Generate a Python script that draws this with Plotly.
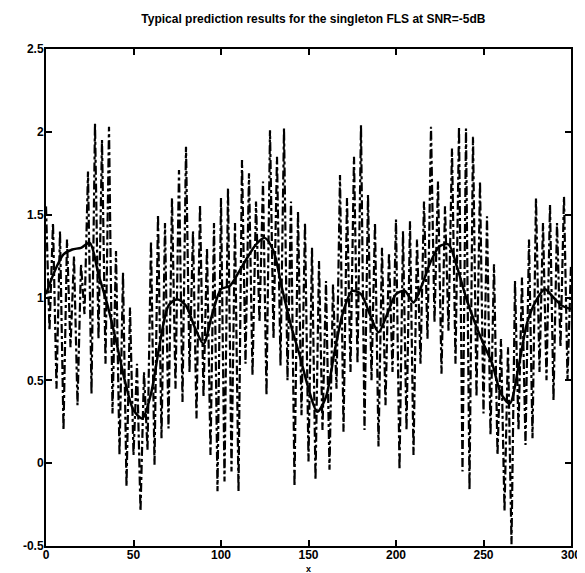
import plotly.graph_objects as go

# Solid line: prediction (read every 5 units)
pred_x = list(range(0, 301, 5))
pred_y = [1.02, 1.16, 1.26, 1.29, 1.30, 1.33, 1.14, 0.96, 0.74, 0.50,
          0.32, 0.27, 0.42, 0.72, 0.95, 0.99, 0.95, 0.82, 0.72, 0.90,
          1.05, 1.07, 1.15, 1.24, 1.32, 1.36, 1.28, 1.05, 0.83, 0.65,
          0.45, 0.31, 0.40, 0.68, 0.92, 1.04, 1.02, 0.90, 0.79, 0.90,
          1.02, 1.04, 0.97, 1.08, 1.22, 1.31, 1.32, 1.18, 1.00, 0.85,
          0.72, 0.60, 0.42, 0.36, 0.58, 0.85, 0.98, 1.05, 1.00, 0.95, 0.93]

# Dash-dot line: noisy data (read every 2 units)
noisy_x = list(range(0, 301, 2))
noisy_y = [1.55, 0.80, 1.45, 0.45, 1.40, 0.20, 1.35, 0.70, 1.25, 0.35,
           1.20, 0.90, 1.76, 0.42, 2.05, 0.75, 1.95, 0.60, 2.03, 0.30,
           1.28, 0.05, 1.15, -0.14, 0.94, 0.05, 0.60, -0.29, 0.55, 0.08,
           1.34, -0.01, 1.50, 0.15, 1.45, 0.21, 1.60, 0.45, 1.77, 0.37,
           1.91, 0.55, 1.40, 0.27, 1.56, 0.40, 1.30, 0.05, 1.45, -0.17,
           1.60, -0.11, 1.66, -0.05, 1.45, -0.17, 1.83, 0.60, 1.75, 0.53,
           1.58, 0.85, 1.70, 0.41, 2.01, 0.75, 1.85, 0.59, 2.02, 0.50,
           1.58, -0.14, 1.52, 0.29, 1.45, 0.01, 1.30, -0.10, 1.22, 0.20,
           1.10, -0.04, 1.08, 0.45, 1.74, 0.19, 1.60, 0.55, 1.85, 0.60,
           2.04, 0.20, 1.62, 0.50, 1.45, 0.10, 1.30, 0.35, 1.27, 0.55,
           1.47, -0.04, 1.40, 0.20, 1.46, 0.05, 1.35, 0.60, 1.58, 0.75,
           2.03, 0.85, 1.70, 0.54, 1.55, 0.80, 1.90, 0.60, 2.03, -0.05,
           2.02, -0.16, 1.97, 0.40, 1.70, 0.30, 1.49, 0.17, 1.20, 0.05,
           0.75, -0.29, 0.70, -0.49, 1.10, 0.20, 1.12, 0.11, 1.35, 0.15,
           1.60, 0.55, 1.45, 0.50, 1.56, 0.38, 1.45, 0.70, 1.61, 0.50, 1.20]

x_ticks = [0, 50, 100, 150, 200, 250, 300]
y_ticks = [-0.5, 0, 0.5, 1, 1.5, 2, 2.5]
y_tick_text = ["-0.5", "0", "0.5", "1", "1.5", "2", "2.5"]

title_text = "Typical prediction results for the singleton FLS at SNR=-5dB"
xlabel = "x"

fig = go.Figure()
fig.add_trace(go.Scatter(x=noisy_x, y=noisy_y, mode="lines",
                         line=dict(color="black", width=2.2, dash="dashdot"),
                         showlegend=False))
fig.add_trace(go.Scatter(x=pred_x, y=pred_y, mode="lines",
                         line=dict(color="black", width=2.5, shape="spline", smoothing=0.8),
                         showlegend=False))

font = dict(family="Liberation Sans Narrow, Liberation Sans, Arial", color="black")
fig.update_layout(
    width=585, height=573,
    margin=dict(l=38, r=12, t=41, b=35),
    paper_bgcolor="white", plot_bgcolor="white",
    font=dict(**font, size=12),
    title=dict(text="<b>" + title_text + "</b>", x=0.522, xanchor="center",
               yref="container", y=0.982, yanchor="middle", font=dict(size=12)),
)
axis_common = dict(showgrid=False, zeroline=False, showline=True, linecolor="black",
                   linewidth=2, mirror="ticks", ticks="inside", ticklen=6,
                   tickwidth=1.5, tickcolor="black",
                   tickfont=dict(size=12, color="black"))
fig.update_xaxes(range=[0, 300], tickvals=x_ticks, ticklabelstandoff=-3,
                 ticktext=["<b>%d</b>" % t for t in x_ticks], **axis_common)
fig.update_yaxes(range=[-0.5, 2.5], tickvals=y_ticks, ticklabelstandoff=-2,
                 ticktext=["<b>%s</b>" % t for t in y_tick_text], **axis_common)
fig.add_annotation(text="<b>" + xlabel + "</b>", xref="paper", yref="paper",
                   x=0.5, y=0, yshift=-17, showarrow=False, yanchor="top",
                   font=dict(size=9, color="black"), borderpad=0)
fig.write_html("out.html")
